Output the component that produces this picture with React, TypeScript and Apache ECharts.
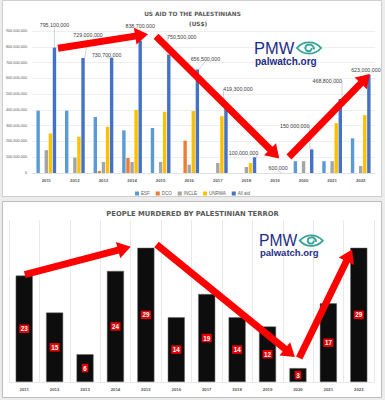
import React, { useEffect, useRef } from "react";
import * as echarts from "echarts";

// ---------- data ----------
const years = ["2011", "2012", "2013", "2014", "2015", "2016", "2017", "2018", "2019", "2020", "2021", "2022"];
const esf = [395000000, 395000000, 355000000, 270000000, 285000000, 0, 0, 0, 0, 75000000, 75000000, 220000000];
const dco = [0, 0, 12000000, 95000000, 0, 205000000, 0, 0, 0, 0, 0, 0];
const incle = [145000000, 98000000, 70000000, 70000000, 70000000, 53000000, 63000000, 38000000, 0, 75000000, 75000000, 44000000];
const unrwa = [250000000, 230000000, 293000000, 400000000, 388000000, 393000000, 360000000, 63000000, 0, 0, 316000000, 367000000];
const allAid = [795100000, 729000000, 730700000, 838700000, 750500000, 656500000, 419300000, 100000000, 600000, 150000000, 468800000, 623000000];
const murdered = [23, 15, 6, 24, 29, 14, 19, 14, 12, 3, 17, 29];

// arrow annotations in data space: [categoryIndex, value] tail -> tip
const aidArrows = [
  [[0.41, 791000000], [3.56, 880000000]],
  [[3.84, 867000000], [8.15, 92000000]],
  [[8.49, 101000000], [11.32, 627000000]],
];
const terrorArrows = [
  [[0.02, 23.2], [3.5, 29.2]],
  [[4.35, 29.7], [8.9, 5.4]],
  [[9.04, 5.2], [10.78, 28.6]],
];

// label nudges (layout, not data)
const aidLabelShift = [
  [0, -15], [5, -15], [-5, 5], [0, -7], [13, -10], [8, -3],
  [12, -10], [-11, 3], [-5, 3], [-17, -16], [-13, -11], [-3, 3],
];

const FONT = "'Liberation Sans', Arial, sans-serif";
const TITLE_FONT = "'DejaVu Sans', sans-serif";
const NAVY = "#1f2d86";
const TEAL = "#34a394";

echarts.graphic.registerShape(
  "pmweye",
  echarts.graphic.extendPath(
    "M1 7 C8 -1 20 -1 27 7 C20 15 8 15 1 7 Z M17 7 A3.5 3.5 0 1 1 13.5 3.5 A5 5 0 0 1 19.5 8.5",
    {}
  )
);

function arrowPoints(tail: number[], tip: number[], shaft: number, headW: number, headL: number) {
  const dx = tip[0] - tail[0];
  const dy = tip[1] - tail[1];
  const len = Math.sqrt(dx * dx + dy * dy);
  const ux = dx / len, uy = dy / len;
  const nx = -uy, ny = ux;
  const bx = tip[0] - ux * headL, by = tip[1] - uy * headL;
  const s = shaft / 2, h = headW / 2;
  return [
    [tail[0] + nx * s, tail[1] + ny * s],
    [bx + nx * s, by + ny * s],
    [bx + nx * h, by + ny * h],
    [tip[0], tip[1]],
    [bx - nx * h, by - ny * h],
    [bx - nx * s, by - ny * s],
    [tail[0] - nx * s, tail[1] - ny * s],
  ];
}

function logo(x: number, y: number, scale: number) {
  return {
    type: "group",
    x,
    y,
    z: 50,
    children: [
      {
        type: "text",
        x: 0,
        y: 7.5 * scale,
        style: { text: "PMW", fill: NAVY, fontSize: 16.5 * scale, fontFamily: FONT, textVerticalAlign: "middle" },
      },
      {
        type: "pmweye",
        x: 42 * scale,
        y: 1.5 * scale,
        scaleX: 0.93 * scale,
        scaleY: 0.93 * scale,
        style: { fill: "none", stroke: TEAL, lineWidth: 2 },
      },
      {
        type: "text",
        x: 1,
        y: 21 * scale,
        style: { text: "palwatch.org", fill: NAVY, fontSize: 10 * scale, fontWeight: "bold", fontFamily: FONT, textVerticalAlign: "middle" },
      },
    ],
  };
}

export default function App() {
  const ref = useRef<HTMLDivElement>(null);

  useEffect(() => {
    document.body.style.margin = "0";
    if (!ref.current) return;
    const chart = echarts.init(ref.current, undefined, { renderer: "svg" });
    const fmt = (v: number) => Number(v).toLocaleString("en-US");
    const barCommon = { type: "bar", xAxisIndex: 0, yAxisIndex: 0, barWidth: 3.4, barGap: "20%" };

    chart.setOption({
      animation: false,
      backgroundColor: "#ffffff",
      title: [
        { text: "US AID TO THE PALESTINIANS", left: "center", top: 6, textStyle: { fontSize: 5.8, fontWeight: "bold", color: "#595959", fontFamily: TITLE_FONT } },
        { text: "(US$)", left: 184, top: 16, textStyle: { fontSize: 5.8, fontWeight: "bold", color: "#595959", fontFamily: TITLE_FONT } },
        { text: "PEOPLE MURDERED BY PALESTINIAN TERROR", left: "center", top: 205, textStyle: { fontSize: 6.8, fontWeight: "bold", color: "#595959", fontFamily: TITLE_FONT } },
      ],
      legend: {
        data: ["ESF", "DCO", "INCLE", "UNRWA", "All aid"],
        top: 186,
        left: "center",
        itemWidth: 4,
        itemHeight: 4,
        itemGap: 6,
        icon: "rect",
        textStyle: { fontSize: 4.5, color: "#595959", fontFamily: FONT, padding: [0, 0, 0, -3] },
      },
      grid: [
        { left: 32, right: 10, top: 31, height: 142 },
        { left: 9, right: 11, top: 220, height: 162 },
      ],
      xAxis: [
        {
          type: "category",
          gridIndex: 0,
          data: years,
          axisLine: { lineStyle: { color: "#d9d9d9", width: 0.6 } },
          axisTick: { show: false },
          axisLabel: { fontSize: 4.3, color: "#595959", margin: 5, fontFamily: FONT, fontWeight: "bold" },
        },
        {
          type: "category",
          gridIndex: 1,
          data: years,
          axisLine: { lineStyle: { color: "#d9d9d9", width: 0.6 } },
          axisTick: { show: false },
          axisLabel: { fontSize: 4.3, color: "#595959", margin: 5, fontFamily: FONT, fontWeight: "bold" },
          splitLine: { show: true, lineStyle: { color: "#e3e3e3", width: 0.8 } },
        },
      ],
      yAxis: [
        {
          type: "value",
          gridIndex: 0,
          min: 0,
          max: 900000000,
          interval: 100000000,
          axisLine: { show: false },
          axisTick: { show: false },
          axisLabel: { fontSize: 3.8, color: "#595959", margin: 5, fontFamily: FONT, formatter: fmt },
          splitLine: { lineStyle: { color: "#dedede", width: 0.5 } },
        },
        {
          type: "value",
          gridIndex: 1,
          min: 0,
          max: 35,
          show: false,
          splitLine: { show: false },
        },
      ],
      series: [
        { ...barCommon, name: "ESF", data: esf, itemStyle: { color: "#5B9BD5" } },
        { ...barCommon, name: "DCO", data: dco, itemStyle: { color: "#ED7D31" } },
        { ...barCommon, name: "INCLE", data: incle, itemStyle: { color: "#A5A5A5" } },
        { ...barCommon, name: "UNRWA", data: unrwa, itemStyle: { color: "#FFC000" } },
        {
          ...barCommon,
          name: "All aid",
          data: allAid,
          itemStyle: { color: "#4472C4" },
          label: {
            show: true,
            position: "top",
            distance: 5,
            fontSize: 5.3,
            color: "#404040",
            fontFamily: FONT,
            formatter: (p: any) => fmt(p.value),
          },
          labelLine: { show: true, lineStyle: { color: "#a6a6a6", width: 0.5 } },
          labelLayout: (p: any) => ({ dx: aidLabelShift[p.dataIndex][0], dy: aidLabelShift[p.dataIndex][1] }),
        },
        {
          type: "bar",
          name: "Murdered",
          xAxisIndex: 1,
          yAxisIndex: 1,
          data: murdered,
          barWidth: "56%",
          itemStyle: { color: "#0d0d0d", borderColor: "#6b6b6b", borderWidth: 0.5 },
          label: {
            show: true,
            position: "inside",
            backgroundColor: "#e60000",
            color: "#ffffff",
            fontWeight: "bold",
            fontSize: 6.3,
            fontFamily: FONT,
            padding: [1.5, 1.5, 1, 1.5],
          },
        },
      ],
    });

    const toPx = (grid: number, pt: number[]) => {
      const x0 = chart.convertToPixel({ xAxisIndex: grid }, 0) as number;
      const x1 = chart.convertToPixel({ xAxisIndex: grid }, 1) as number;
      const y = chart.convertToPixel({ yAxisIndex: grid }, pt[1]) as number;
      return [x0 + pt[0] * (x1 - x0), y];
    };

    const arrows: any[] = [];
    aidArrows.forEach((a) => {
      arrows.push({
        type: "polygon",
        z: 100,
        shape: { points: arrowPoints(toPx(0, a[0]), toPx(0, a[1]), 7, 17, 13) },
        style: { fill: "#ff0000" },
      });
    });
    terrorArrows.forEach((a) => {
      arrows.push({
        type: "polygon",
        z: 100,
        shape: { points: arrowPoints(toPx(1, a[0]), toPx(1, a[1]), 7, 17, 13) },
        style: { fill: "#ff0000" },
      });
    });

    chart.setOption({
      graphic: [
        { type: "rect", z: -10, shape: { x: 0, y: 0, width: 385, height: 400 }, style: { fill: "#ececec" } },
        { type: "rect", z: -9, shape: { x: 2.5, y: 0.5, width: 379, height: 196 }, style: { fill: "#ffffff", stroke: "#cfcfcf", lineWidth: 1 } },
        { type: "rect", z: -9, shape: { x: 2.5, y: 201.5, width: 379, height: 196 }, style: { fill: "#ffffff", stroke: "#bdbdbd", lineWidth: 1 } },
        logo(254, 40, 1),
        logo(259, 233, 0.95),
        ...arrows,
      ],
    });

    return () => chart.dispose();
  }, []);

  return <div ref={ref} style={{ width: 385, height: 400 }} />;
}
